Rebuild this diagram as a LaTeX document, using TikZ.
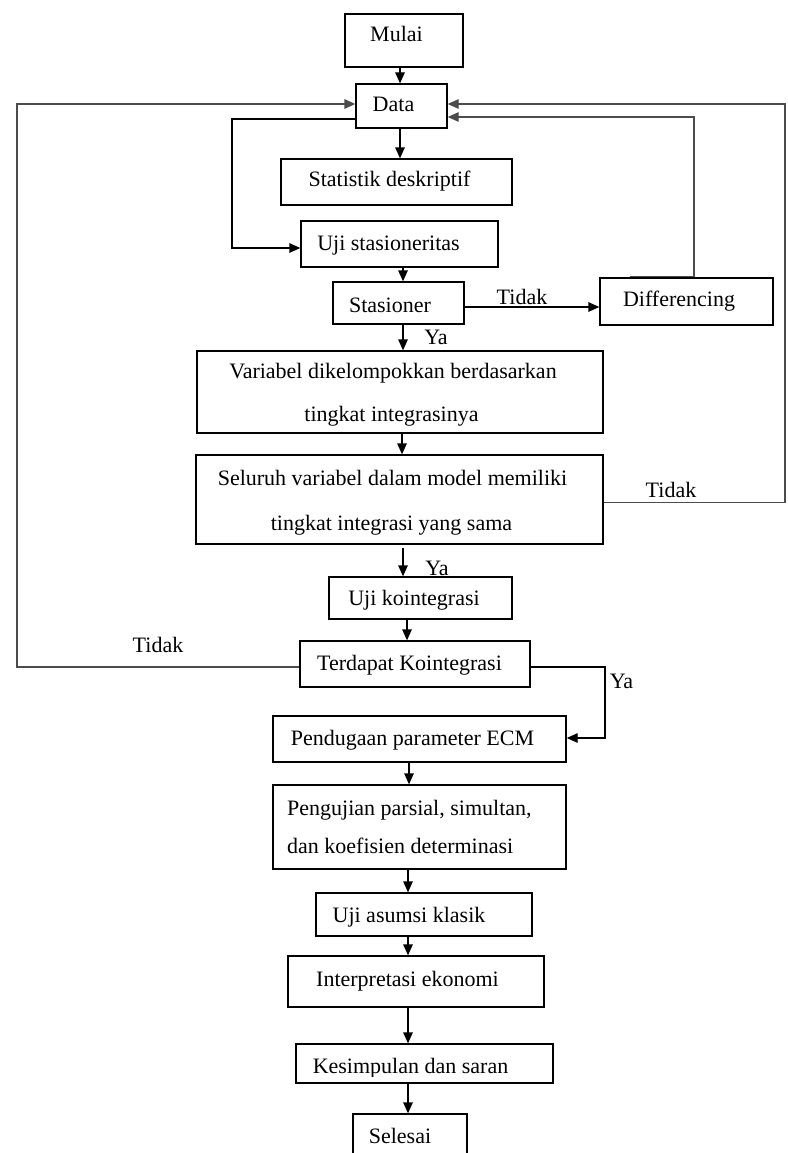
\documentclass[tikz,border=0pt]{standalone}
\usepackage{fontspec}
\setmainfont{Liberation Serif}
\usetikzlibrary{arrows.meta,calc}
\begin{document}
\begin{tikzpicture}[x=1pt,y=-1pt,
  box/.style={draw, line width=1.3pt, inner sep=0pt},
  txt/.style={font=\fontsize{22}{26}\selectfont, inner sep=0pt, anchor=base},
  arr/.style={line width=1.3pt, -{Triangle[length=11pt,width=9.5pt]}},
  loopline/.style={arr, draw=black!70}]
\useasboundingbox (0,0) rectangle (787,1153);
\clip (0,0) rectangle (787,1153);
% boxes
\node[box, minimum width=118pt, minimum height=53pt] (mulai) at (404,40.5) {};
\node[box, minimum width=91pt, minimum height=44pt] (data) at (401.5,106) {};
\node[box, minimum width=231pt, minimum height=46pt] (stat) at (396.5,182) {};
\node[box, minimum width=197pt, minimum height=46pt] (ustas) at (399.5,244) {};
\node[box, minimum width=131pt, minimum height=42pt] (stas) at (398.5,303) {};
\node[box, minimum width=173pt, minimum height=47pt] (diff) at (686.5,301.5) {};
\node[box, minimum width=406pt, minimum height=82pt] (var) at (400,392) {};
\node[box, minimum width=407pt, minimum height=89pt] (sel) at (399.5,499.5) {};
\node[box, minimum width=183pt, minimum height=42pt] (ukoint) at (420.5,598) {};
\node[box, minimum width=230pt, minimum height=46pt] (terd) at (415,664) {};
\node[box, minimum width=293pt, minimum height=46pt] (pend) at (419.5,739) {};
\node[box, minimum width=293pt, minimum height=84pt] (peng) at (419.5,827) {};
\node[box, minimum width=216pt, minimum height=43pt] (uas) at (424,914.5) {};
\node[box, minimum width=256pt, minimum height=51pt] (interp) at (416,981.5) {};
\node[box, minimum width=257pt, minimum height=39pt] (kes) at (424.5,1063.5) {};
\node[box, minimum width=114pt, minimum height=56pt] (selesai) at (410,1142) {};
% texts
\node[txt] (tmulai) at (396.5,42) {Mulai};
\node[txt] (tdata) at (393.5,112) {Data};
\node[txt] (tstat) at (389.5,186) {Statistik deskriptif};
\node[txt] (tustas) at (388.5,250) {Uji stasioneritas};
\node[txt] (tstas) at (390,312) {Stasioner};
\node[txt] (tdiff) at (679,306) {Differencing};
\node[txt] (tvara) at (393,378) {Variabel dikelompokkan berdasarkan};
\node[txt] (tvarb) at (391.5,421) {tingkat integrasinya};
\node[txt] (tsela) at (392.5,485) {Seluruh variabel dalam model memiliki};
\node[txt] (tselb) at (391.5,530) {tingkat integrasi yang sama};
\node[txt] (tukoint) at (414,605) {Uji kointegrasi};
\node[txt] (tterd) at (409.5,670) {Terdapat Kointegrasi};
\node[txt] (tpend) at (412.5,745) {Pendugaan parameter ECM};
\node[txt, anchor=base west] (tpenga) at (287,815) {Pengujian parsial, simultan,};
\node[txt, anchor=base west] (tpengb) at (287,853) {dan koefisien determinasi};
\node[txt] (tuas) at (409,922) {Uji asumsi klasik};
\node[txt] (tinterp) at (407.5,986) {Interpretasi ekonomi};
\begin{scope}
\clip (296,1040) rectangle (553,1076.5);
\node[txt] (tkes) at (410.5,1073) {Kesimpulan dan saran};
\end{scope}
\node[txt] (tselesai) at (400,1143) {Selesai};
% column coordinates
\coordinate (c400) at (400,0);
\coordinate (c402) at (402,0);
\coordinate (c403) at (403,0);
\coordinate (c407) at (407,0);
\coordinate (c408) at (408,0);
\coordinate (c409) at (409,0);
% vertical arrows
\draw[arr] (mulai.south -| c400) -- (data.north -| c400);
\draw[arr] (data.south -| c400) -- (stat.north -| c400);
\draw[arr] (ustas.south -| c403) -- (stas.north -| c403);
\draw[arr] (stas.south -| c403) -- (var.north -| c403);
\draw[arr] (var.south -| c402) -- (sel.north -| c402);
\draw[arr] ($(sel.south -| c403)+(0,3)$) -- (ukoint.north -| c403);
\draw[arr] (ukoint.south -| c407) -- (terd.north -| c407);
\draw[arr] (pend.south -| c409) -- (peng.north -| c409);
\draw[arr] (peng.south -| c408) -- (uas.north -| c408);
\draw[arr] (uas.south -| c408) -- (interp.north -| c408);
\draw[arr] (interp.south -| c408) -- (kes.north -| c408);
\draw[arr] (kes.south -| c408) -- (selesai.north -| c408);
% loops
\coordinate (xl) at (17,400);
\draw[loopline] ($(terd.west)+(0,3)$) -| (xl) |- ($(data.west)+(0,-2)$);
\coordinate (xi) at (232,200);
\draw[arr] ($(data.west)+(0,13)$) -| (xi) |- ($(ustas.west)+(0,4)$);
\draw[arr] ($(stas.east)+(0,4)$) -- ($(diff.west |- stas.east)+(0,4)$);
\coordinate (xd) at (694,200);
\draw[loopline] ($(diff.north)+(-57,-1)$) -- ($(diff.north -| xd)+(0,-1)$) |- ($(data.east)+(0,11)$);
\coordinate (xr) at (785,300);
\draw[loopline] ($(sel.east)+(0,3)$) -| (xr) |- ($(data.east)+(0,-2)$);
\coordinate (xy) at (605,700);
\draw[arr] ($(terd.east)+(0,3)$) -| (xy) |- ($(pend.east)+(0,-1)$);
% labels
\node[txt] (ltid1) at (522,304) {Tidak};
\node[txt] (lya1) at (436,344) {Ya};
\node[txt] (ltid2) at (671,497) {Tidak};
\node[txt] (lya2) at (437,575) {Ya};
\node[txt] (ltid3) at (158,652) {Tidak};
\node[txt] (lya3) at (621.5,688) {Ya};
\end{tikzpicture}
\end{document}
